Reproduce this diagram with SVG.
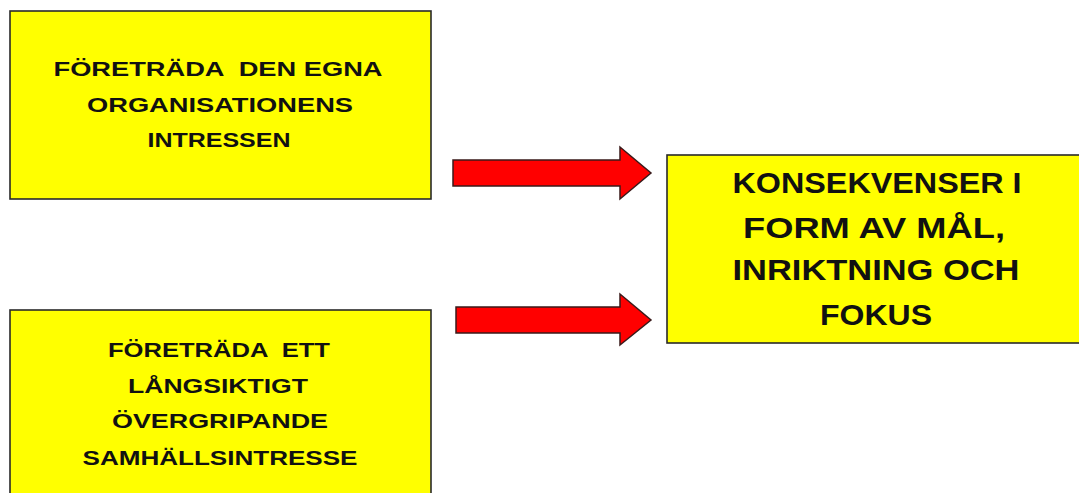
<svg xmlns="http://www.w3.org/2000/svg" width="1079" height="493" viewBox="0 0 1079 493">
<style>
.box{fill:#ffff00;stroke:#2a2a2a;stroke-width:1.6}
.arrow{fill:#ff0000;stroke:#3a1a1a;stroke-width:1.5;stroke-linejoin:miter}
.t{font-family:"Liberation Sans",Arial,sans-serif;font-weight:bold;fill:#111;text-anchor:middle;font-size:20px}
.tb{font-size:30px}
</style>
<rect width="1079" height="493" fill="#ffffff"/>
<g id="node-egna">
<rect class="box" x="10" y="11" width="421" height="188"/>
<text class="t" xml:space="preserve" x="218" y="76" textLength="329" lengthAdjust="spacingAndGlyphs">FÖRETRÄDA  DEN EGNA</text>
<text class="t" x="220" y="112" textLength="266" lengthAdjust="spacingAndGlyphs">ORGANISATIONENS</text>
<text class="t" x="219" y="147" textLength="143" lengthAdjust="spacingAndGlyphs">INTRESSEN</text>
</g>
<g id="node-samhalle">
<rect class="box" x="10" y="310" width="421" height="200"/>
<text class="t" xml:space="preserve" x="219" y="357" textLength="222" lengthAdjust="spacingAndGlyphs">FÖRETRÄDA  ETT</text>
<text class="t" x="218" y="393" textLength="180" lengthAdjust="spacingAndGlyphs">LÅNGSIKTIGT</text>
<text class="t" x="220" y="428" textLength="216" lengthAdjust="spacingAndGlyphs">ÖVERGRIPANDE</text>
<text class="t" x="220" y="465" textLength="275" lengthAdjust="spacingAndGlyphs">SAMHÄLLSINTRESSE</text>
</g>
<g id="node-konsekvenser">
<rect class="box" x="667" y="155" width="430" height="188"/>
<text class="t tb" x="877" y="193" textLength="289" lengthAdjust="spacingAndGlyphs">KONSEKVENSER I</text>
<text class="t tb" x="874" y="238" textLength="262" lengthAdjust="spacingAndGlyphs">FORM AV MÅL,</text>
<text class="t tb" x="876" y="280" textLength="287" lengthAdjust="spacingAndGlyphs">INRIKTNING OCH</text>
<text class="t tb" x="876" y="325" textLength="112" lengthAdjust="spacingAndGlyphs">FOKUS</text>
</g>
<g id="connectors">
<polygon class="arrow" points="453,160 620,160 620,147 651,173 620,199 620,186 453,186"/>
<polygon class="arrow" points="456,307 620,307 620,294 651,320 620,345 620,333 456,333"/>
</g>
</svg>
